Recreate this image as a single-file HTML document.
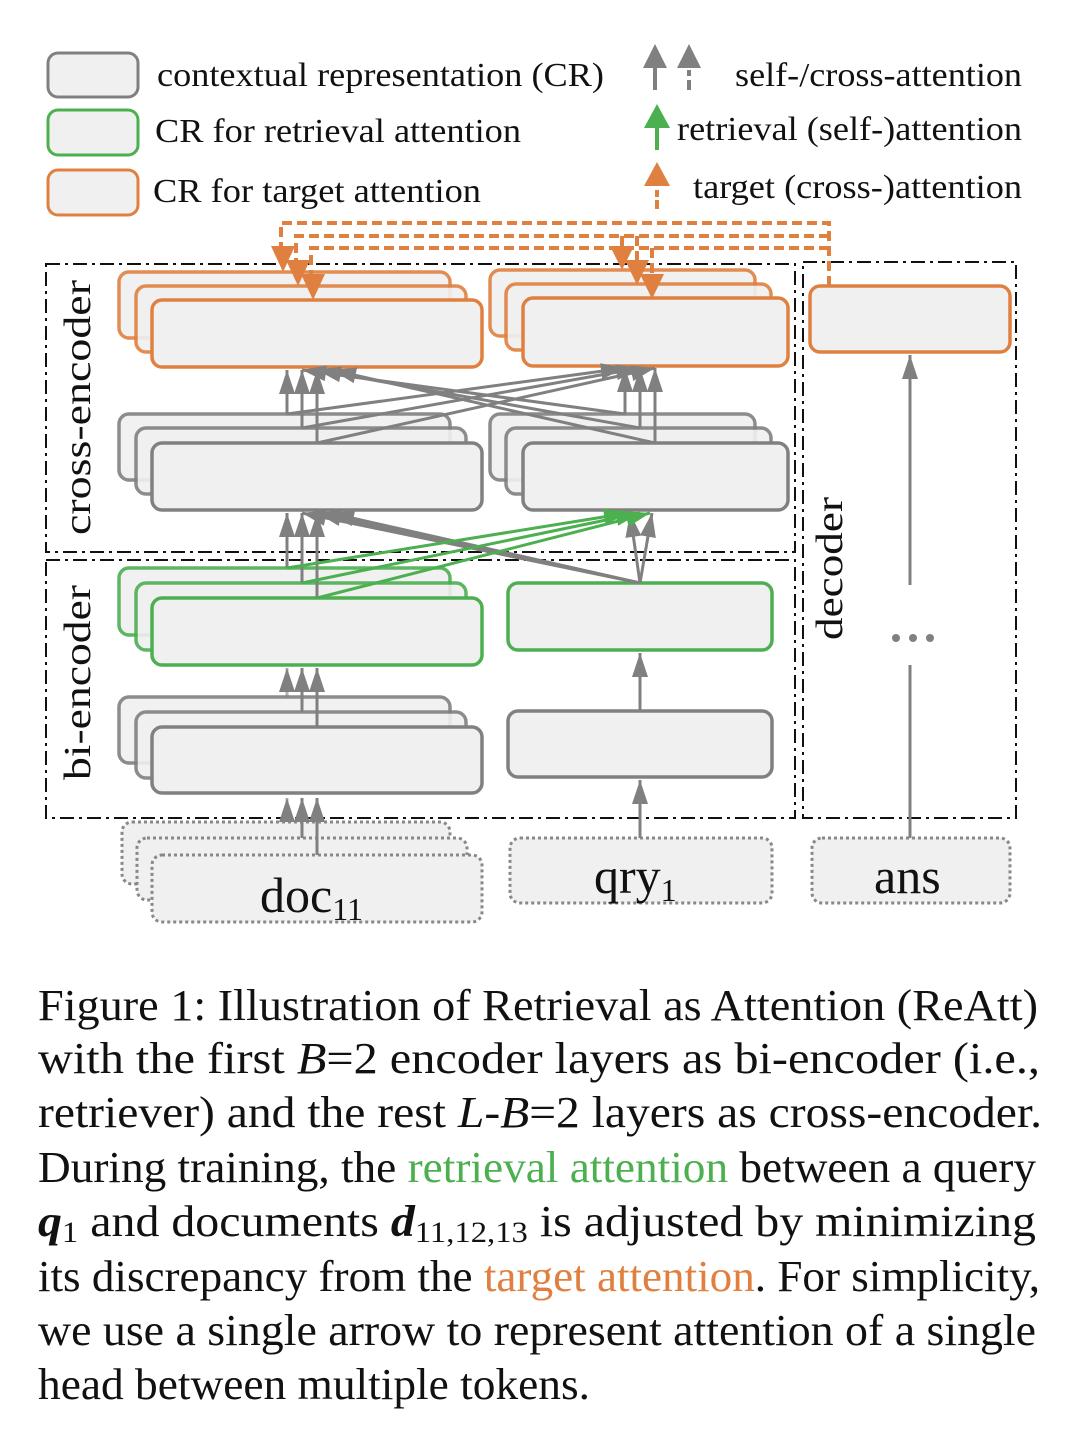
<!DOCTYPE html>
<html><head><meta charset="utf-8"><style>
html,body{margin:0;padding:0;background:#fff;}
svg{display:block;}
text{font-family:"Liberation Serif",serif;fill:#111;}
</style></head><body>
<svg width="1080" height="1444" viewBox="0 0 1080 1444" xmlns="http://www.w3.org/2000/svg">
<defs>
<marker id="ag" viewBox="0 0 10 10" refX="9" refY="5" markerWidth="10" markerHeight="10" markerUnits="userSpaceOnUse" orient="auto" overflow="visible"><path d="M-15,-3 L9,5 L-15,13 Z" fill="#808080"/></marker>
<marker id="agr" viewBox="0 0 10 10" refX="9" refY="5" markerWidth="10" markerHeight="10" markerUnits="userSpaceOnUse" orient="auto" overflow="visible"><path d="M-15,-3 L9,5 L-15,13 Z" fill="#4caf50"/></marker>
</defs>

<!-- legend -->
<rect x="48" y="53" width="90" height="44" rx="10" fill="#f0f0f0" stroke="#808080" stroke-width="3"/>
<rect x="48" y="110" width="90" height="45" rx="10" fill="#f0f0f0" stroke="#4caf50" stroke-width="3"/>
<rect x="48" y="170" width="90" height="45" rx="10" fill="#f0f0f0" stroke="#e08040" stroke-width="3"/>
<text x="157" y="86" font-size="34" textLength="447" lengthAdjust="spacingAndGlyphs">contextual representation (CR)</text>
<text x="155" y="142" font-size="34" textLength="366" lengthAdjust="spacingAndGlyphs">CR for retrieval attention</text>
<text x="153" y="202" font-size="34" textLength="328" lengthAdjust="spacingAndGlyphs">CR for target attention</text>
<path d="M655,44 L667,68 L643,68 Z" fill="#808080"/><rect x="653" y="66" width="4" height="24" fill="#808080"/>
<path d="M689,44 L701,68 L677,68 Z" fill="#808080"/><rect x="687" y="70" width="4" height="6" fill="#808080"/><rect x="687" y="80" width="4" height="10" fill="#808080"/>
<text x="735" y="86" font-size="34" textLength="287" lengthAdjust="spacingAndGlyphs">self-/cross-attention</text>
<path d="M657,104 L670,128 L644,128 Z" fill="#4caf50"/><rect x="655" y="126" width="4" height="24" fill="#4caf50"/>
<text x="677" y="140" font-size="34" textLength="345" lengthAdjust="spacingAndGlyphs">retrieval (self-)attention</text>
<path d="M657,162 L670,186 L644,186 Z" fill="#e08040"/><rect x="655" y="190" width="4" height="7" fill="#e08040"/><rect x="655" y="200" width="4" height="9" fill="#e08040"/>
<text x="693" y="198" font-size="34" textLength="329" lengthAdjust="spacingAndGlyphs">target (cross-)attention</text>

<!-- dash-dot group boxes -->
<g fill="none" stroke="#111" stroke-width="2" stroke-dasharray="14,5,3,5">
<rect x="46" y="264" width="749" height="288"/>
<rect x="46" y="560" width="749" height="258"/>
<rect x="803" y="262" width="213" height="556"/>
</g>
<text transform="translate(90,535) rotate(-90)" font-size="38" textLength="255" lengthAdjust="spacingAndGlyphs">cross-encoder</text>
<text transform="translate(90,780) rotate(-90)" font-size="38" textLength="195" lengthAdjust="spacingAndGlyphs">bi-encoder</text>
<text transform="translate(842,640) rotate(-90)" font-size="38" textLength="143" lengthAdjust="spacingAndGlyphs">decoder</text>

<!-- inputs dotted -->
<g fill="#f0f0f0" stroke="#888" stroke-width="3" stroke-dasharray="3,3">
<rect x="122" y="822" width="328" height="62" rx="10"/>
<rect x="137" y="838" width="330" height="62" rx="10"/>
<rect x="152" y="855" width="330" height="67" rx="10"/>
<rect x="510" y="838" width="262" height="65" rx="10"/>
<rect x="812" y="838" width="198" height="65" rx="10"/>
</g>
<text x="260" y="912" font-size="50">doc<tspan font-size="32" dy="8">11</tspan></text>
<text x="594" y="893" font-size="50">qry<tspan font-size="32" dy="8">1</tspan></text>
<text x="874" y="893" font-size="50">ans</text>

<g stroke-width="3.5">
<rect x="119" y="697" width="331" height="66" rx="10" fill="#f0f0f0" stroke="#808080" opacity="0.9"/>
<rect x="136" y="712" width="330" height="66" rx="10" fill="#f0f0f0" stroke="#808080" opacity="0.9"/>
<rect x="152" y="727" width="330" height="66" rx="10" fill="#f0f0f0" stroke="#808080"/>
<rect x="508" y="711" width="264" height="66" rx="10" fill="#f0f0f0" stroke="#808080"/>
<rect x="119" y="568" width="331" height="67" rx="10" fill="#f0f0f0" stroke="#4caf50" opacity="0.9"/>
<rect x="136" y="583" width="330" height="67" rx="10" fill="#f0f0f0" stroke="#4caf50" opacity="0.9"/>
<rect x="152" y="598" width="330" height="67" rx="10" fill="#f0f0f0" stroke="#4caf50"/>
<rect x="508" y="583" width="264" height="67" rx="10" fill="#f0f0f0" stroke="#4caf50"/>
<rect x="119" y="414" width="331" height="66" rx="10" fill="#f0f0f0" stroke="#808080" opacity="0.9"/>
<rect x="136" y="428" width="330" height="66" rx="10" fill="#f0f0f0" stroke="#808080" opacity="0.9"/>
<rect x="152" y="443" width="330" height="67" rx="10" fill="#f0f0f0" stroke="#808080"/>
<rect x="490" y="414" width="265" height="66" rx="10" fill="#f0f0f0" stroke="#808080" opacity="0.9"/>
<rect x="506" y="428" width="265" height="66" rx="10" fill="#f0f0f0" stroke="#808080" opacity="0.9"/>
<rect x="523" y="443" width="265" height="67" rx="10" fill="#f0f0f0" stroke="#808080"/>
<rect x="119" y="272" width="331" height="66" rx="10" fill="#f0f0f0" stroke="#e08040" opacity="0.9"/>
<rect x="136" y="286" width="330" height="66" rx="10" fill="#f0f0f0" stroke="#e08040" opacity="0.9"/>
<rect x="152" y="300" width="330" height="67" rx="10" fill="#f0f0f0" stroke="#e08040"/>
<rect x="490" y="270" width="265" height="66" rx="10" fill="#f0f0f0" stroke="#e08040" opacity="0.9"/>
<rect x="506" y="284" width="265" height="66" rx="10" fill="#f0f0f0" stroke="#e08040" opacity="0.9"/>
<rect x="523" y="298" width="265" height="68" rx="10" fill="#f0f0f0" stroke="#e08040"/>
<rect x="810" y="286" width="200" height="66" rx="10" fill="#f0f0f0" stroke="#e08040"/>
</g>

<g stroke="#808080" stroke-width="3" fill="none" marker-end="url(#ag)">
<line x1="287" y1="822" x2="287" y2="798" stroke-opacity="0.6"/>
<line x1="302" y1="838" x2="302" y2="798"/>
<line x1="317" y1="855" x2="317" y2="798"/>
<line x1="640" y1="838" x2="640" y2="780"/>
<line x1="287" y1="697" x2="287" y2="668" stroke-opacity="0.6"/>
<line x1="302" y1="712" x2="302" y2="668"/>
<line x1="317" y1="727" x2="317" y2="668"/>
<line x1="640" y1="711" x2="640" y2="653"/>
<line x1="287" y1="568" x2="287" y2="513"/>
<line x1="302" y1="583" x2="302" y2="513"/>
<line x1="317" y1="598" x2="317" y2="513"/>
<line x1="640" y1="583" x2="302" y2="513"/>
<line x1="640" y1="583" x2="317" y2="513"/>
<line x1="640" y1="583" x2="330" y2="513"/>
<line x1="640" y1="583" x2="630" y2="513"/>
<line x1="640" y1="583" x2="652" y2="513"/>
<line x1="287" y1="414" x2="287" y2="370"/>
<line x1="302" y1="428" x2="302" y2="370"/>
<line x1="317" y1="443" x2="317" y2="370"/>
<line x1="287" y1="414" x2="625" y2="368"/>
<line x1="302" y1="428" x2="640" y2="368"/>
<line x1="317" y1="443" x2="655" y2="368"/>
<line x1="625" y1="414" x2="625" y2="368"/>
<line x1="640" y1="428" x2="640" y2="368"/>
<line x1="655" y1="443" x2="655" y2="368"/>
<line x1="625" y1="414" x2="302" y2="370"/>
<line x1="640" y1="428" x2="317" y2="370"/>
<line x1="655" y1="443" x2="332" y2="370"/>
<line x1="910" y1="838" x2="910" y2="665" marker-end="none"/>
<line x1="910" y1="585" x2="910" y2="355"/>
</g>
<circle cx="896" cy="638" r="4" fill="#808080"/><circle cx="913" cy="638" r="4" fill="#808080"/><circle cx="930" cy="638" r="4" fill="#808080"/>
<g stroke="#4caf50" stroke-width="3" fill="none" marker-end="url(#agr)">
<line x1="287" y1="568" x2="628" y2="513"/>
<line x1="302" y1="583" x2="640" y2="513"/>
<line x1="317" y1="598" x2="650" y2="513"/>
</g>
<g stroke="#e08040" stroke-width="4" fill="none" stroke-dasharray="10,5">
<polyline points="829,286 829,223 281,223 281,250"/>
<polyline points="829,236 296,236 296,262"/>
<polyline points="829,248 311,248 311,278"/>
<line x1="622" y1="236" x2="622" y2="250"/>
<line x1="637" y1="236" x2="637" y2="262"/>
<line x1="652" y1="248" x2="652" y2="278"/>
</g>
<g fill="#e08040">
<path d="M271,246 L295,246 L283,272 Z"/>
<path d="M286,260 L310,260 L298,286 Z"/>
<path d="M301,274 L325,274 L313,300 Z"/>
<path d="M610,246 L634,246 L622,270 Z"/>
<path d="M625,260 L649,260 L637,285 Z"/>
<path d="M640,274 L664,274 L652,299 Z"/>
</g>

<g font-size="44">
<text x="38" y="1020" textLength="1000" lengthAdjust="spacingAndGlyphs">Figure 1: Illustration of Retrieval as Attention (ReAtt)</text>
<text x="38" y="1073" textLength="1002" lengthAdjust="spacingAndGlyphs">with the first <tspan font-style="italic">B</tspan>=2 encoder layers as bi-encoder (i.e.,</text>
<text x="38" y="1127" textLength="1004" lengthAdjust="spacingAndGlyphs">retriever) and the rest <tspan font-style="italic">L</tspan>-<tspan font-style="italic">B</tspan>=2 layers as cross-encoder.</text>
<text x="38" y="1182" textLength="998" lengthAdjust="spacingAndGlyphs">During training, the <tspan fill="#4caf50">retrieval attention</tspan> between a query</text>
<text x="38" y="1236" textLength="998" lengthAdjust="spacingAndGlyphs"><tspan font-weight="bold" font-style="italic">q</tspan><tspan font-size="30" dy="6">1</tspan><tspan dy="-6"> and documents </tspan><tspan font-weight="bold" font-style="italic">d</tspan><tspan font-size="30" dy="6">11,12,13</tspan><tspan dy="-6"> is adjusted by minimizing</tspan></text>
<text x="38" y="1291" textLength="1002" lengthAdjust="spacingAndGlyphs">its discrepancy from the <tspan fill="#e08040">target attention</tspan>. For simplicity,</text>
<text x="38" y="1345" textLength="998" lengthAdjust="spacingAndGlyphs">we use a single arrow to represent attention of a single</text>
<text x="38" y="1399" textLength="552" lengthAdjust="spacingAndGlyphs">head between multiple tokens.</text>
</g>
</svg>
</body></html>
